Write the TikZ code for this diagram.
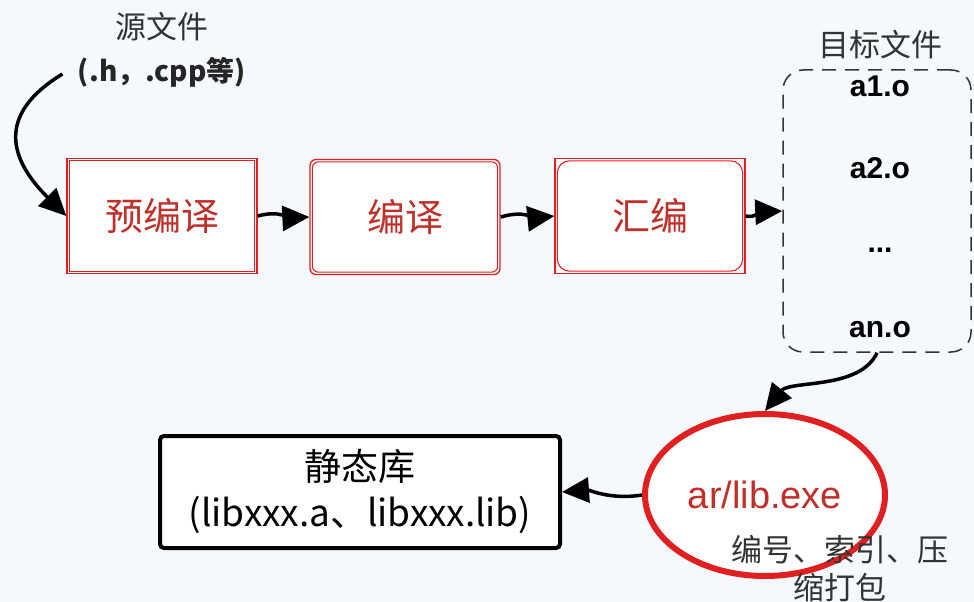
\documentclass[tikz,border=0pt]{standalone}
\usepackage{fontspec}
\setmainfont{Liberation Sans}
\newfontfamily\cjk{Noto Sans CJK SC}
\usetikzlibrary{arrows.meta,shapes.geometric}
\definecolor{bgc}{HTML}{F5F9FD}
\definecolor{redc}{HTML}{E02020}
\definecolor{redt}{HTML}{C0302A}
\tikzset{
  redbox/.style={draw=redc, line width=1.3pt, fill=white, minimum width=190pt, minimum height=115pt, inner sep=0pt},
  redtxt/.style={text=redt, font=\cjk\fontsize{38}{42}\selectfont},
  conn/.style={line width=3.5pt, -{Triangle[length=27pt,width=25pt]}},
  lbl/.style={font=\cjk\fontsize{31}{38}\selectfont, text=black!80},
  objtxt/.style={font=\bfseries\fontsize{30}{34}\selectfont},
}
\begin{document}
\begin{tikzpicture}[x=1pt,y=-1pt]
\fill[bgc] (0,0) rectangle (974,602);
\useasboundingbox (0,0) rectangle (974,602);

% text label source
\node[lbl] (src) at (162,27) {源文件};
\node[font=\cjk\bfseries\fontsize{28}{32}\selectfont, text=black!85] (srcx) at (162,72) {(.h，.cpp等)};

% red boxes
\node[redbox] (pre) at (162,216) {};
\draw[redc, line width=1.1pt] ([shift={(3,-3)}]pre.south west) rectangle ([shift={(-3,3)}]pre.north east);
\node[redtxt] at (pre) {预编译};

\node[redbox, rounded corners=6pt] (cmp) at (405,217) {};
\draw[redc, line width=1.1pt, rounded corners=6pt] ([shift={(3,-3)}]cmp.south west) rectangle ([shift={(-3,3)}]cmp.north east);
\node[redtxt] at (cmp) {编译};

\node[redbox] (asm) at (650,216) {};
\draw[redc, line width=1.1pt, rounded corners=12pt] ([shift={(3,-3)}]asm.south west) -- ([shift={(3,3)}]asm.north west) -- ([shift={(-3,3)}]asm.north east) -- ([shift={(-3,-3)}]asm.south east) -- cycle;
\node[redtxt] at (asm) {汇编};

% object files dashed box
\node[draw=black!80, dashed, dash pattern=on 14pt off 9pt, line width=1.5pt, rounded corners=20pt,
      minimum width=188pt, minimum height=282pt, inner sep=0pt] (obj) at (877,211) {};
\node[lbl] (objl) at (880,45) {目标文件};
\node[objtxt] (a1) at (880,86) {a1.o};
\node[objtxt] (a2) at (880,168) {a2.o};
\node[objtxt] (dots) at (880,250) {...};
\node[objtxt] (an) at (880,330) {an.o};

% ellipse
\node[ellipse, draw=redc, line width=6pt, fill=white, minimum width=240pt, minimum height=162pt, inner sep=0pt] (ar) at (765,495) {};
\node[text=redt, font=\fontsize{38}{42}\selectfont] at (765,495) {ar/lib.exe};
\node[lbl, align=center] (arl) at (840,569) {编号、索引、压\\缩打包};

% static lib
\node[draw=black, line width=4pt, fill=white, rounded corners=4pt, minimum width=400pt, minimum height=112pt, inner sep=0pt] (lib) at (360,492) {};
\node[font=\cjk\fontsize{37}{46}\selectfont, align=center] at (lib) {静态库\\(libxxx.a、libxxx.lib)};

% connectors
\draw[conn] (srcx.west) ++(-12,2) coordinate (s0) .. controls (-5,115) and (10,160) .. (pre.west);
\draw[conn] (pre.east) .. controls (280,210) and (290,218) .. (cmp.west);
\draw[conn] (cmp.east) .. controls (525,210) and (535,218) .. (asm.west);
\draw[conn] (asm.east) .. controls (755,218) and (760,212) .. (obj.west);
\draw[conn] (obj.south) .. controls (860,390) and (790,380) .. (ar.north);
\draw[conn] (ar.west) .. controls (610,500) and (590,490) .. (lib.east);
\end{tikzpicture}
\end{document}
